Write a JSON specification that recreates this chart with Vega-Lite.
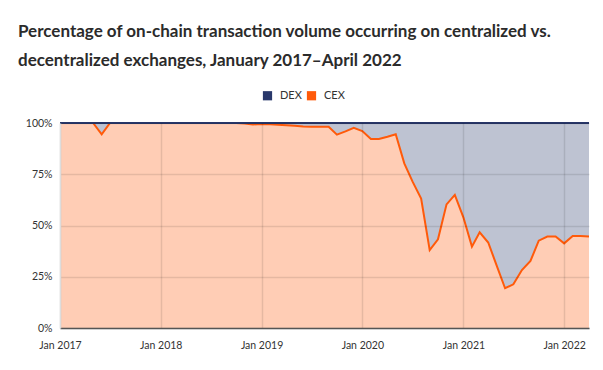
{
  "$schema": "https://vega.github.io/schema/vega-lite/v6.json",
  "autosize": {"type": "none"},
  "width": 529,
  "height": 205,
  "padding": {"left": 60, "top": 123, "right": 14, "bottom": 42},
  "background": "white",
  "title": {
    "text": ["Percentage of on-chain transaction volume occurring on centralized vs.", "decentralized exchanges, January 2017\u2013April 2022"],
    "anchor": "start",
    "frame": "group",
    "dx": -42,
    "offset": 20,
    "font": "Lato",
    "fontSize": 17,
    "fontWeight": "bold",
    "color": "#2b2b2b",
    "lineHeight": 29
  },
  "config": {
    "view": {"stroke": null},
    "font": "Lato",
    "axis": {"labelFont": "Lato", "labelColor": "#333333", "labelFontSize": 10.5, "ticks": false, "title": null, "gridColor": "#000000", "gridOpacity": 0.1, "gridWidth": 1.5},
    "legend": {"labelFont": "Lato", "labelFontSize": 11, "labelColor": "#333333"}
  },
  "data": {
    "values": [
      {"date": "2017-01-01", "CEX": 100, "DEX": 0},
      {"date": "2017-02-01", "CEX": 100, "DEX": 0},
      {"date": "2017-03-01", "CEX": 100, "DEX": 0},
      {"date": "2017-04-01", "CEX": 100, "DEX": 0},
      {"date": "2017-05-01", "CEX": 100, "DEX": 0},
      {"date": "2017-06-01", "CEX": 94.5, "DEX": 5.5},
      {"date": "2017-07-01", "CEX": 100, "DEX": 0},
      {"date": "2017-08-01", "CEX": 100, "DEX": 0},
      {"date": "2017-09-01", "CEX": 100, "DEX": 0},
      {"date": "2017-10-01", "CEX": 100, "DEX": 0},
      {"date": "2017-11-01", "CEX": 100, "DEX": 0},
      {"date": "2017-12-01", "CEX": 100, "DEX": 0},
      {"date": "2018-01-01", "CEX": 100, "DEX": 0},
      {"date": "2018-02-01", "CEX": 100, "DEX": 0},
      {"date": "2018-03-01", "CEX": 100, "DEX": 0},
      {"date": "2018-04-01", "CEX": 100, "DEX": 0},
      {"date": "2018-05-01", "CEX": 100, "DEX": 0},
      {"date": "2018-06-01", "CEX": 100, "DEX": 0},
      {"date": "2018-07-01", "CEX": 100, "DEX": 0},
      {"date": "2018-08-01", "CEX": 100, "DEX": 0},
      {"date": "2018-09-01", "CEX": 100, "DEX": 0},
      {"date": "2018-10-01", "CEX": 100, "DEX": 0},
      {"date": "2018-11-01", "CEX": 99.8, "DEX": 0.2},
      {"date": "2018-12-01", "CEX": 99.3, "DEX": 0.7},
      {"date": "2019-01-01", "CEX": 99.5, "DEX": 0.5},
      {"date": "2019-02-01", "CEX": 99.4, "DEX": 0.6},
      {"date": "2019-03-01", "CEX": 99.2, "DEX": 0.8},
      {"date": "2019-04-01", "CEX": 98.9, "DEX": 1.1},
      {"date": "2019-05-01", "CEX": 98.6, "DEX": 1.4},
      {"date": "2019-06-01", "CEX": 98.3, "DEX": 1.7},
      {"date": "2019-07-01", "CEX": 98.2, "DEX": 1.8},
      {"date": "2019-08-01", "CEX": 98.2, "DEX": 1.8},
      {"date": "2019-09-01", "CEX": 98.2, "DEX": 1.8},
      {"date": "2019-10-01", "CEX": 94.3, "DEX": 5.7},
      {"date": "2019-11-01", "CEX": 95.9, "DEX": 4.1},
      {"date": "2019-12-01", "CEX": 97.7, "DEX": 2.3},
      {"date": "2020-01-01", "CEX": 96.1, "DEX": 3.9},
      {"date": "2020-02-01", "CEX": 92.2, "DEX": 7.8},
      {"date": "2020-03-01", "CEX": 92.2, "DEX": 7.8},
      {"date": "2020-04-01", "CEX": 93.3, "DEX": 6.7},
      {"date": "2020-05-01", "CEX": 94.5, "DEX": 5.5},
      {"date": "2020-06-01", "CEX": 80.3, "DEX": 19.7},
      {"date": "2020-07-01", "CEX": 71.4, "DEX": 28.6},
      {"date": "2020-08-01", "CEX": 63.1, "DEX": 36.9},
      {"date": "2020-09-01", "CEX": 38.0, "DEX": 62.0},
      {"date": "2020-10-01", "CEX": 43.3, "DEX": 56.7},
      {"date": "2020-11-01", "CEX": 60.3, "DEX": 39.7},
      {"date": "2020-12-01", "CEX": 64.9, "DEX": 35.1},
      {"date": "2021-01-01", "CEX": 54.0, "DEX": 46.0},
      {"date": "2021-02-01", "CEX": 39.7, "DEX": 60.3},
      {"date": "2021-03-01", "CEX": 46.7, "DEX": 53.3},
      {"date": "2021-04-01", "CEX": 41.7, "DEX": 58.3},
      {"date": "2021-05-01", "CEX": 30.7, "DEX": 69.3},
      {"date": "2021-06-01", "CEX": 19.4, "DEX": 80.6},
      {"date": "2021-07-01", "CEX": 21.3, "DEX": 78.7},
      {"date": "2021-08-01", "CEX": 28.3, "DEX": 71.7},
      {"date": "2021-09-01", "CEX": 32.7, "DEX": 67.3},
      {"date": "2021-10-01", "CEX": 42.6, "DEX": 57.4},
      {"date": "2021-11-01", "CEX": 44.6, "DEX": 55.4},
      {"date": "2021-12-01", "CEX": 44.6, "DEX": 55.4},
      {"date": "2022-01-01", "CEX": 41.3, "DEX": 58.7},
      {"date": "2022-02-01", "CEX": 44.9, "DEX": 55.1},
      {"date": "2022-03-01", "CEX": 44.9, "DEX": 55.1},
      {"date": "2022-04-01", "CEX": 44.6, "DEX": 55.4}
    ]
  },
  "encoding": {
    "x": {
      "field": "date",
      "type": "temporal",
      "scale": {"type": "utc", "nice": false},
      "axis": {
        "format": "%b %Y",
        "tickCount": {"interval": "year", "step": 1},
        "labelPadding": 12,
        "grid": true,
        "zindex": 1,
        "domainColor": "#555555",
        "domainWidth": 1.5,
        "labelFlush": false,
        "labelOverlap": false
      }
    }
  },
  "layer": [
    {
      "transform": [{"fold": ["DEX", "CEX"], "as": ["exchange", "share"]}],
      "mark": {"type": "area", "fillOpacity": 0.3, "interpolate": "linear"},
      "encoding": {
        "y": {
          "field": "share",
          "type": "quantitative",
          "stack": "zero",
          "scale": {"domain": [0, 100], "nice": false},
          "axis": {
            "values": [0, 25, 50, 75, 100],
            "labelExpr": "datum.value + '%'",
            "labelPadding": 8,
            "grid": true,
            "zindex": 1,
            "domainColor": "#dddddd",
            "domainWidth": 1.5
          }
        },
        "color": {
          "field": "exchange",
          "type": "nominal",
          "scale": {"domain": ["DEX", "CEX"], "range": ["#29386b", "#ff5a0a"]},
          "legend": {
            "orient": "none",
            "direction": "horizontal",
            "legendX": 202,
            "legendY": -33,
            "title": null,
            "symbolType": "square",
            "symbolSize": 85,
            "symbolOpacity": 1,
            "symbolStrokeWidth": 0,
            "columnPadding": 4,
            "labelOffset": 7
          }
        },
        "order": {"field": "exchange", "sort": "ascending"}
      }
    },
    {
      "mark": {"type": "line", "color": "#ff5a0a", "strokeWidth": 2},
      "encoding": {
        "y": {"field": "CEX", "type": "quantitative"}
      }
    },
    {
      "mark": {"type": "line", "color": "#29386b", "strokeWidth": 2},
      "encoding": {
        "y": {"datum": 100, "type": "quantitative"}
      }
    }
  ]
}
